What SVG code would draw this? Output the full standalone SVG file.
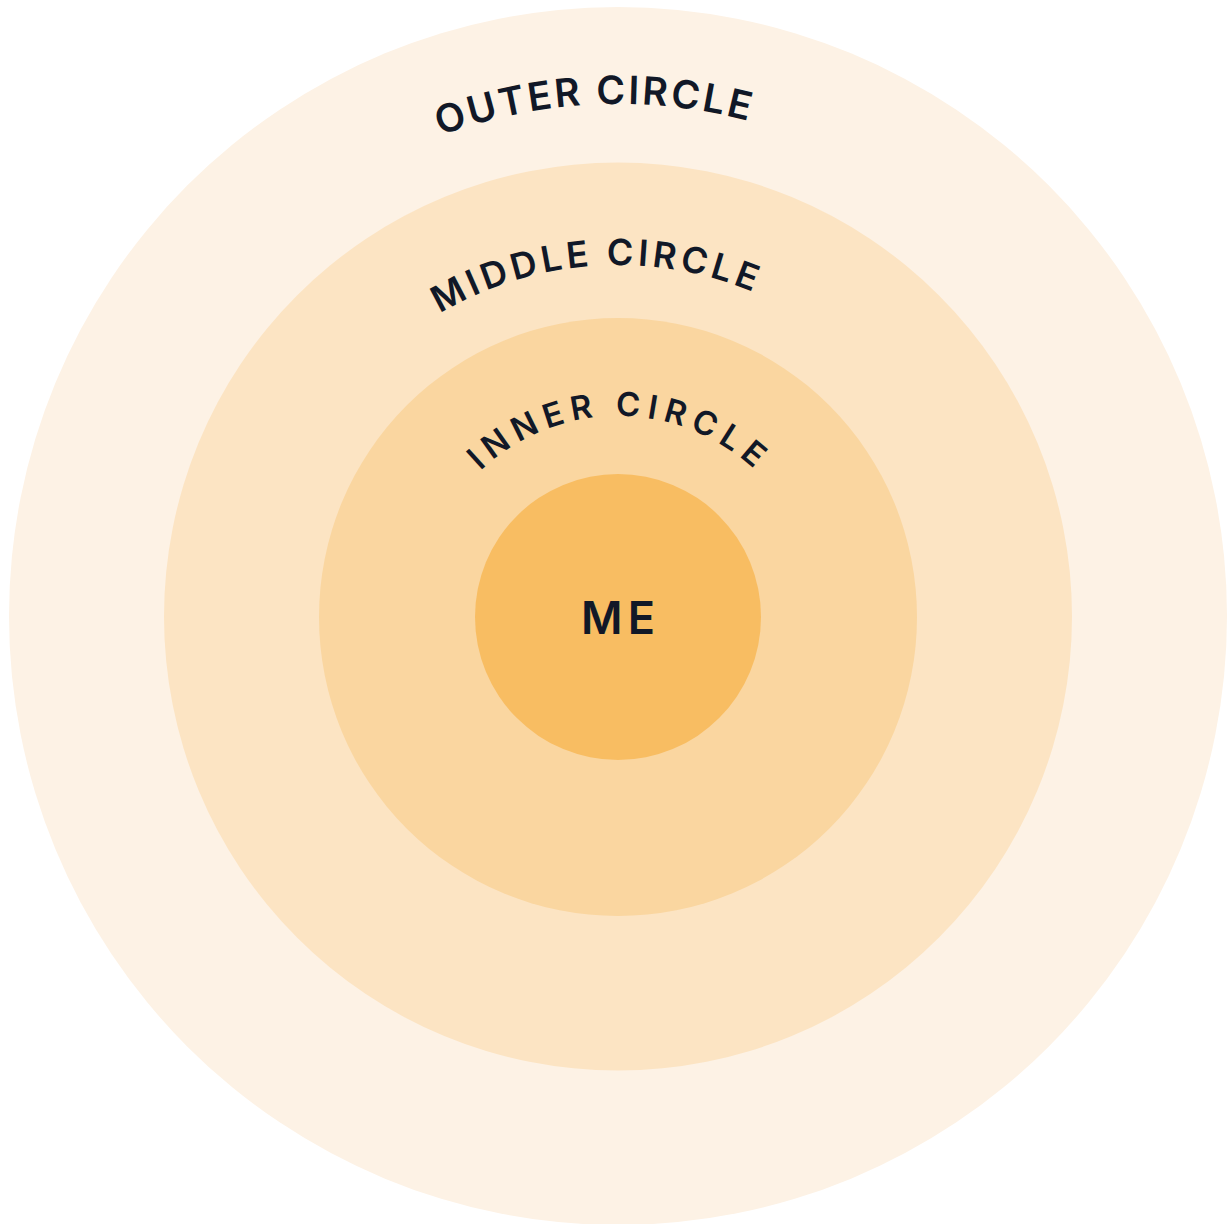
<svg xmlns="http://www.w3.org/2000/svg" xmlns:xlink="http://www.w3.org/1999/xlink" width="1229" height="1224" viewBox="0 0 1229 1224">
  <style>
    .lbl { font-family: Inter, "Open Sans", "Liberation Sans", sans-serif; font-weight: 600; fill: #111827; }
  </style>
  <defs>
    <path id="arcOuter" d="M 440.4 135.8 A 512 512 0 0 1 750.5 121.4"/>
    <path id="arcMiddle" d="M 439.9 313.6 A 351 351 0 0 1 755.1 292.9"/>
    <path id="arcInner" d="M 480.3 470.9 A 200 200 0 0 1 755.7 470.9"/>
  </defs>
  <g id="outer-circle">
    <circle cx="618" cy="616" r="609" fill="#FDF2E5"/>
    <text class="lbl" font-size="39"><textPath href="#arcOuter" xlink:href="#arcOuter" textLength="313" lengthAdjust="spacing">OUTER CIRCLE</textPath></text>
  </g>
  <g id="middle-circle">
    <circle cx="618" cy="616.5" r="454" fill="#FCE4C3"/>
    <text class="lbl" font-size="36"><textPath href="#arcMiddle" xlink:href="#arcMiddle" textLength="325" lengthAdjust="spacing">MIDDLE CIRCLE</textPath></text>
  </g>
  <g id="inner-circle">
    <circle cx="618" cy="617" r="299" fill="#FAD6A0"/>
    <text class="lbl" font-size="33"><textPath href="#arcInner" xlink:href="#arcInner" textLength="301" lengthAdjust="spacing">INNER CIRCLE</textPath></text>
  </g>
  <g id="me">
    <circle cx="618" cy="617" r="143" fill="#F8BD62"/>
    <text class="lbl" x="618" y="634" font-size="45" text-anchor="middle" textLength="74" lengthAdjust="spacing">ME</text>
  </g>
  <g id="connectors"/>
</svg>
